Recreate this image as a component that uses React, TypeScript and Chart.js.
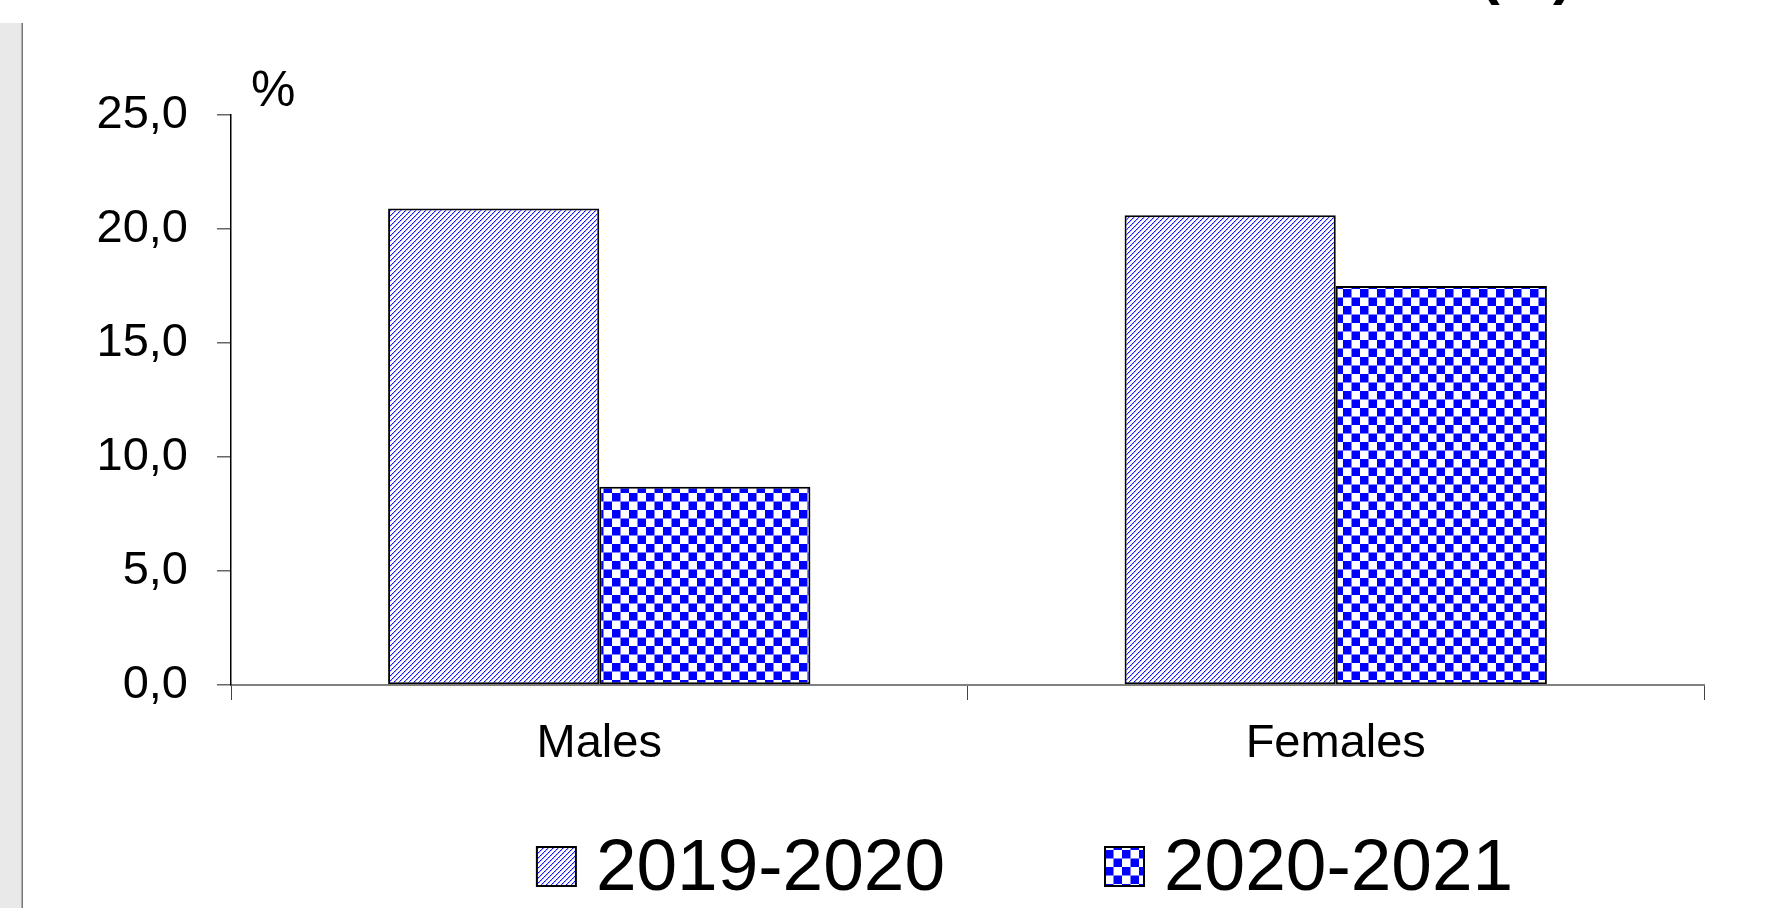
import React, { useEffect, useRef } from 'react';
import { Chart, registerables } from 'chart.js';

Chart.register(...registerables);

const categories = ['Males', 'Females'];
const seriesLabels = ['2019-2020', '2020-2021'];
const values2019 = [20.9, 20.6];
const values2020 = [8.7, 17.5];
const yMin = 0;
const yMax = 25;
const yStep = 5;
const unitLabel = '%';
const titleFragment = '(%)';

const FONT = '"Liberation Sans", Arial, Helvetica, sans-serif';

function makeStripe(): CanvasPattern {
  const c = document.createElement('canvas');
  c.width = 10;
  c.height = 10;
  const g = c.getContext('2d')!;
  g.fillStyle = '#ffffff';
  g.fillRect(0, 0, 10, 10);
  for (let y = 0; y < 10; y++) {
    for (let x = 0; x < 10; x++) {
      const k = (x + y) % 5;
      if (k === 0) {
        g.fillStyle = x % 2 === 0 ? '#0000ff' : '#4040ff';
        g.fillRect(x, y, 1, 1);
      } else if (k === 1) {
        g.fillStyle = x % 2 === 0 ? '#c4c4ff' : '#9a9aff';
        g.fillRect(x, y, 1, 1);
      }
    }
  }
  return g.createPattern(c, 'repeat')!;
}

function makeChecker(): CanvasPattern {
  const c = document.createElement('canvas');
  c.width = 17;
  c.height = 17;
  const g = c.getContext('2d')!;
  g.fillStyle = '#ffffff';
  g.fillRect(0, 0, 17, 17);
  g.fillStyle = '#0000ff';
  g.fillRect(0, 0, 8.5, 8.5);
  g.fillRect(8.5, 8.5, 8.5, 8.5);
  return g.createPattern(c, 'repeat')!;
}

const extras = {
  id: 'extras',
  beforeDraw(chart: any) {
    const ctx = chart.ctx as CanvasRenderingContext2D;
    ctx.save();
    ctx.fillStyle = '#e9e9e9';
    ctx.fillRect(0, 23, 22, chart.height - 23);
    ctx.strokeStyle = '#777777';
    ctx.lineWidth = 1.5;
    ctx.beginPath();
    ctx.moveTo(22.25, 23);
    ctx.lineTo(22.25, chart.height);
    ctx.stroke();
    ctx.restore();
  },
  afterDraw(chart: any) {
    const ctx = chart.ctx as CanvasRenderingContext2D;
    const area = chart.chartArea;
    ctx.save();
    // unit label
    ctx.fillStyle = '#000';
    ctx.font = `50px ${FONT}`;
    ctx.textAlign = 'left';
    ctx.textBaseline = 'alphabetic';
    ctx.fillText(unitLabel, area.left + 20, 106);
    // cut-off title fragment
    ctx.font = `bold 60px ${FONT}`;
    ctx.textAlign = 'right';
    ctx.fillText(titleFragment, 1573, -7);
    // legend
    const boxSize = 39;
    const boxGap = 20;
    const itemGap = 160;
    const centerX = 1025;
    ctx.font = `73px ${FONT}`;
    ctx.textAlign = 'left';
    const ds = chart.data.datasets;
    const widths = ds.map((d: any) => boxSize + boxGap + ctx.measureText(d.label).width);
    const total = widths.reduce((a: number, b: number) => a + b, 0) + itemGap * (ds.length - 1);
    let x = centerX - total / 2;
    ds.forEach((d: any, i: number) => {
      ctx.fillStyle = d.backgroundColor;
      ctx.fillRect(x, 847, boxSize, boxSize);
      ctx.strokeStyle = '#000';
      ctx.lineWidth = 2;
      ctx.strokeRect(x, 847, boxSize, boxSize);
      ctx.fillStyle = '#000';
      ctx.fillText(d.label, x + boxSize + boxGap, 890);
      x += widths[i] + itemGap;
    });
    ctx.restore();
  },
};

export default function App() {
  const ref = useRef<HTMLCanvasElement | null>(null);

  useEffect(() => {
    if (!ref.current) return;
    const stripe = makeStripe();
    const checker = makeChecker();
    const chart = new Chart(ref.current, {
      type: 'bar',
      data: {
        labels: categories,
        datasets: [
          {
            label: seriesLabels[0],
            data: values2019,
            backgroundColor: stripe as any,
            borderColor: '#000',
            borderWidth: 2,
            borderSkipped: false,
            barPercentage: 1,
            categoryPercentage: 0.5734,
          },
          {
            label: seriesLabels[1],
            data: values2020,
            backgroundColor: checker as any,
            borderColor: '#000',
            borderWidth: 2,
            borderSkipped: false,
            barPercentage: 1,
            categoryPercentage: 0.5734,
          },
        ],
      },
      options: {
        animation: false,
        responsive: false,
        events: [],
        layout: { padding: { left: 0, right: 86, top: 115, bottom: 0 } },
        plugins: {
          legend: { display: false },
          tooltip: { enabled: false },
          title: { display: false },
        },
        scales: {
          x: {
            grid: {
              drawOnChartArea: false,
              drawTicks: true,
              tickLength: 15,
              color: '#444',
              lineWidth: 1,
              offset: true,
            },
            border: { color: '#808080', width: 2 },
            ticks: { font: { family: FONT, size: 47 }, color: '#000', padding: 16 },
            afterFit: (s: any) => {
              s.height = 223;
            },
          },
          y: {
            min: yMin,
            max: yMax,
            ticks: {
              stepSize: yStep,
              callback: (v: any) => Number(v).toFixed(1).replace('.', ','),
              font: { family: FONT, size: 47 },
              color: '#000',
              padding: 29,
            },
            grid: {
              drawOnChartArea: false,
              drawTicks: true,
              tickLength: 14,
              color: '#666',
              lineWidth: 1.5,
            },
            border: { color: '#000', width: 1.5 },
            afterFit: (s: any) => {
              s.width = 231;
            },
          },
        },
      },
      plugins: [extras],
    });
    return () => chart.destroy();
  }, []);

  return (
    <div style={{ position: 'absolute', left: 0, top: 0, width: 1790, height: 908, background: '#fff' }}>
      <canvas ref={ref} width={1790} height={908} style={{ display: 'block', width: 1790, height: 908 }} />
    </div>
  );
}
